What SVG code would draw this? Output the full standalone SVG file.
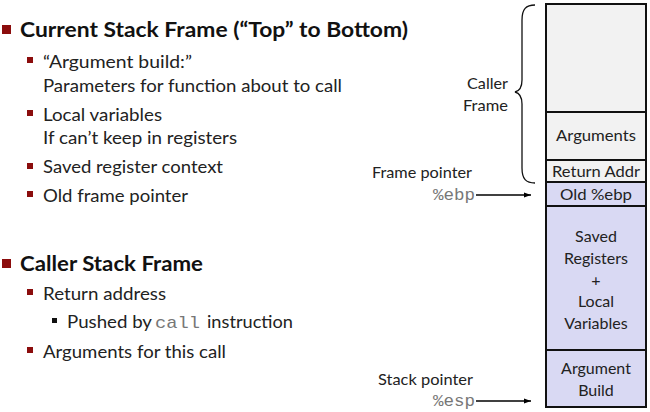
<svg xmlns="http://www.w3.org/2000/svg" width="650" height="412" viewBox="0 0 650 412">
  <style>
    .title { font-family: Lato, "Open Sans", "Liberation Sans", sans-serif; font-weight: bold; font-size: 20px; fill: #111; }
    .body { font-family: Lato, "Open Sans", "Liberation Sans", sans-serif; font-size: 16.5px; fill: #222; }
    .mono { font-family: "Liberation Mono", "DejaVu Sans Mono", monospace; font-size: 17px; fill: #777; }
    .lbl { font-family: Lato, "Open Sans", "Liberation Sans", sans-serif; font-size: 16px; fill: #222; }
    .cell { font-family: Lato, "Open Sans", "Liberation Sans", sans-serif; font-size: 16px; fill: #222; text-anchor: middle; }
    .gray { fill: #f2f2f2; stroke: #111; stroke-width: 2; }
    .purp { fill: #d9d9f3; stroke: #111; stroke-width: 2; }
    .b1 { fill: #8b0d0d; }
    .b2 { fill: #8b0d0d; }
    .conn { stroke: #000; stroke-width: 1.5; fill: none; marker-end: url(#arr); }
  </style>
  <defs>
    <marker id="arr" viewBox="0 0 10 10" refX="10" refY="5" markerWidth="7" markerHeight="7" markerUnits="userSpaceOnUse" orient="auto">
      <path d="M0,1.5 L10,5 L0,8.5 Z" fill="#000"/>
    </marker>
  </defs>

  <!-- Bullet text: current frame -->
  <g id="current-frame-notes">
    <rect class="b1" x="2" y="25" width="9" height="9"/>
    <text class="title" x="20" y="37" textLength="388" lengthAdjust="spacingAndGlyphs">Current Stack Frame (“Top” to Bottom)</text>
    <rect class="b2" x="27" y="57" width="6" height="6"/>
    <text class="body" x="43" y="68" textLength="149" lengthAdjust="spacingAndGlyphs">“Argument build:”</text>
    <text class="body" x="43" y="92" textLength="299" lengthAdjust="spacingAndGlyphs">Parameters for function about to call</text>
    <rect class="b2" x="27" y="110" width="6" height="6"/>
    <text class="body" x="43" y="121" textLength="119" lengthAdjust="spacingAndGlyphs">Local variables</text>
    <text class="body" x="43" y="144" textLength="194" lengthAdjust="spacingAndGlyphs">If can’t keep in registers</text>
    <rect class="b2" x="27" y="163" width="6" height="6"/>
    <text class="body" x="43" y="173" textLength="180" lengthAdjust="spacingAndGlyphs">Saved register context</text>
    <rect class="b2" x="27" y="191" width="6" height="6"/>
    <text class="body" x="43" y="202" textLength="145" lengthAdjust="spacingAndGlyphs">Old frame pointer</text>
  </g>

  <!-- Bullet text: caller frame -->
  <g id="caller-frame-notes">
    <rect class="b1" x="2" y="259" width="9" height="9"/>
    <text class="title" x="20" y="271" textLength="183" lengthAdjust="spacingAndGlyphs">Caller Stack Frame</text>
    <rect class="b2" x="27" y="289" width="6" height="6"/>
    <text class="body" x="43" y="300" textLength="123" lengthAdjust="spacingAndGlyphs">Return address</text>
    <rect x="52" y="318" width="5" height="5" fill="#111"/>
    <text class="body" x="67" y="328" textLength="85" lengthAdjust="spacingAndGlyphs">Pushed by</text>
    <text class="mono" x="155" y="328" textLength="45" lengthAdjust="spacingAndGlyphs">call</text>
    <text class="body" x="207" y="328" textLength="86" lengthAdjust="spacingAndGlyphs">instruction</text>
    <rect class="b2" x="27" y="347" width="6" height="6"/>
    <text class="body" x="43" y="358" textLength="183" lengthAdjust="spacingAndGlyphs">Arguments for this call</text>
  </g>

  <!-- Stack cells, top of memory first -->
  <g id="caller-upper">
    <rect class="gray" x="546" y="4" width="100" height="108"/>
  </g>
  <g id="arguments">
    <rect class="gray" x="546" y="112" width="100" height="48"/>
    <text class="cell" x="596" y="141" textLength="80" lengthAdjust="spacingAndGlyphs">Arguments</text>
  </g>
  <g id="return-addr">
    <rect class="gray" x="546" y="160" width="100" height="22"/>
    <text class="cell" x="596" y="177" textLength="88" lengthAdjust="spacingAndGlyphs">Return Addr</text>
  </g>
  <g id="old-ebp">
    <rect class="purp" x="546" y="182" width="100" height="24"/>
    <text class="cell" x="596" y="200" textLength="72" lengthAdjust="spacingAndGlyphs">Old %ebp</text>
  </g>
  <g id="saved-locals">
    <rect class="purp" x="546" y="206" width="100" height="144"/>
    <text class="cell" x="596" y="242">Saved</text>
    <text class="cell" x="596" y="264">Registers</text>
    <text class="cell" x="596" y="286">+</text>
    <text class="cell" x="596" y="307">Local</text>
    <text class="cell" x="596" y="329">Variables</text>
  </g>
  <g id="argument-build">
    <rect class="purp" x="546" y="350" width="100" height="57"/>
    <text class="cell" x="596" y="374">Argument</text>
    <text class="cell" x="596" y="396">Build</text>
  </g>

  <!-- Caller frame brace and label -->
  <g id="caller-frame">
    <path d="M535,5 C526,5 522,9 522,20 L522,80 C522,87 519,91 515,92 C519,93 522,97 522,104 L522,168 C522,179 526,183 535,183" fill="none" stroke="#111" stroke-width="1.3"/>
    <text class="lbl" x="508" y="89" text-anchor="end" textLength="41" lengthAdjust="spacingAndGlyphs">Caller</text>
    <text class="lbl" x="508" y="111" text-anchor="end" textLength="45" lengthAdjust="spacingAndGlyphs">Frame</text>
  </g>

  <!-- Register labels -->
  <g id="frame-pointer">
    <text class="lbl" x="472" y="178" text-anchor="end" textLength="100" lengthAdjust="spacingAndGlyphs">Frame pointer</text>
    <text class="mono" x="475" y="200" text-anchor="end" textLength="42" lengthAdjust="spacingAndGlyphs">%ebp</text>
  </g>
  <g id="stack-pointer">
    <text class="lbl" x="473" y="385" text-anchor="end" textLength="95" lengthAdjust="spacingAndGlyphs">Stack pointer</text>
    <text class="mono" x="475" y="406" text-anchor="end" textLength="42" lengthAdjust="spacingAndGlyphs">%esp</text>
  </g>

  <g id="connectors">
    <line class="conn" x1="476" y1="195" x2="531" y2="195"/>
    <line class="conn" x1="476" y1="401" x2="531" y2="401"/>
  </g>
</svg>
